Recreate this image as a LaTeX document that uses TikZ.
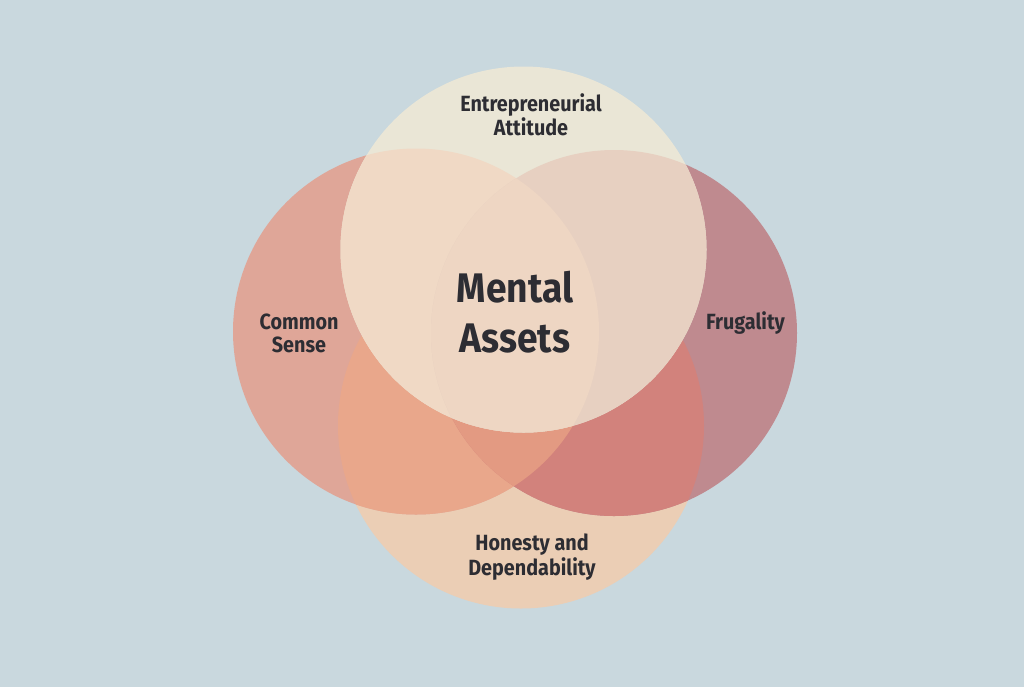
\documentclass[tikz,border=0pt]{standalone}
\usepackage{fontspec}
\setmainfont{Fira Sans}[FakeStretch=0.9]
\definecolor{bgc}{HTML}{C9D8DE}
\definecolor{tcol}{HTML}{EAE6D6}
\definecolor{lcol}{HTML}{DFA698}
\definecolor{rcol}{HTML}{BF8A8F}
\definecolor{bcol}{HTML}{EBCEB5}
\definecolor{lbcol}{HTML}{E9A78B}
\definecolor{rbcol}{HTML}{D2827C}
\definecolor{lrbcol}{HTML}{E39A82}
\definecolor{tlcol}{HTML}{F0D9C5}
\definecolor{trcol}{HTML}{E7D0C1}
\definecolor{tlrcol}{HTML}{EED6C3}
\definecolor{txt}{HTML}{2D2D33}
\tikzset{
  lbl/.style={text=txt, align=center, inner sep=0pt, anchor=base,
    font=\bfseries\fontsize{16.5}{16.9}\selectfont},
  bigl/.style={text=txt, align=center, inner sep=0pt, anchor=base,
    font=\bfseries\fontsize{31}{36.8}\selectfont}
}
\begin{document}
\begin{tikzpicture}[x=0.75pt,y=-0.75pt]
\def\CT{(523.5,249.5) circle[radius=183]}
\def\CL{(416,331.5) circle[radius=183]}
\def\CR{(614,333) circle[radius=183]}
\def\CB{(521,425.5) circle[radius=183]}
\useasboundingbox (0,0) rectangle (1024,687);
\fill[bgc] (0,0) rectangle (1024,687);
% single circles
\fill[bcol] \CB;
\fill[lcol] \CL;
\fill[rcol] \CR;
\begin{scope}\clip \CL; \fill[lbcol] \CB; \end{scope}
\begin{scope}\clip \CR; \fill[rbcol] \CB; \end{scope}
\begin{scope}\clip \CL; \clip \CR; \fill[lrbcol] \CB; \end{scope}
% top circle
\fill[tcol] \CT;
\begin{scope}\clip \CT; \fill[tlcol] \CL; \end{scope}
\begin{scope}\clip \CT; \fill[trcol] \CR; \end{scope}
\begin{scope}\clip \CT; \clip \CL; \fill[tlrcol] \CR; \end{scope}
% labels (anchor = baseline of last line)
\node[lbl] (ent) at (531,135.5) {Entrepreneurial\\Attitude};
\node[lbl] (com) at (299,352) {Common\\Sense};
\node[lbl] (fru) at (745.5,329) {Frugality};
\node[lbl] (hon) at (532,575) {Honesty and\\Dependability};
\node[bigl] (men) at (515,352) {Mental\\Assets};
\end{tikzpicture}
\end{document}
